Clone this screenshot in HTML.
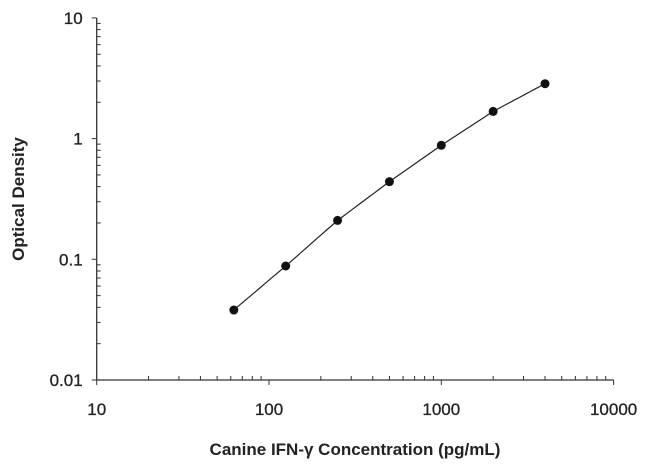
<!DOCTYPE html>
<html><head><meta charset="utf-8"><style>
body{margin:0;background:#fff;}
svg{display:block;font-family:"Liberation Sans",sans-serif;}
</style></head><body>
<svg id="chart" width="650" height="470" viewBox="0 0 650 470">
<g id="axes"></g><g id="marks"></g>
<text x="355" y="455" text-anchor="middle" font-size="17" font-weight="bold" fill="#222">Canine IFN-γ Concentration (pg/mL)</text>
<text transform="translate(24,199) rotate(-90)" text-anchor="middle" font-size="17" font-weight="bold" fill="#222">Optical Density</text>
</svg>
<script>
const xValues=[62.5,125,250,500,1000,2000,4000];
const yValues=[0.038,0.088,0.21,0.44,0.88,1.68,2.85];
const xTicks=[10,100,1000,10000];
const xTickLabels=["10","100","1000","10000"];
const yTicks=[0.01,0.1,1,10];
const yTickLabels=["0.01","0.1","1","10"];
const X0=96.7,XD=172.3,Y0=380,YD=120.7;
const sx=v=>X0+(Math.log10(v)-1)*XD;
const sy=v=>Y0-(Math.log10(v)+2)*YD;
const NS="http://www.w3.org/2000/svg";
function mk(t,a,p){const e=document.createElementNS(NS,t);for(const k in a)e.setAttribute(k,a[k]);p.appendChild(e);return e;}
const ax=document.getElementById('axes'),mg=document.getElementById('marks');
const xl=mk('line',{x1:X0,y1:Y0,x2:sx(10000),y2:Y0,stroke:'#333','stroke-width':1.3},ax);


const yl=mk('line',{x1:X0,y1:Y0,x2:X0,y2:sy(10),stroke:'#333','stroke-width':1.3},ax);


xTicks.forEach((t,i)=>{
 mk('line',{x1:sx(t),y1:Y0,x2:sx(t),y2:Y0+5,stroke:'#333'},ax);
 const tx=mk('text',{x:sx(t),y:Y0+35,'text-anchor':'middle','font-size':17,fill:'#222',stroke:'#222','stroke-width':0.3},ax);
 tx.textContent=xTickLabels[i];
 
 
 if(i<xTicks.length-1)for(let m=2;m<10;m++)mk('line',{x1:sx(t*m),y1:Y0,x2:sx(t*m),y2:Y0-4,stroke:'#333'},ax);
});
yTicks.forEach((t,i)=>{
 mk('line',{x1:X0-5,y1:sy(t),x2:X0,y2:sy(t),stroke:'#333'},ax);
 const tx=mk('text',{x:X0-14,y:sy(t)+6,'text-anchor':'end','font-size':17,fill:'#222',stroke:'#222','stroke-width':0.3},ax);
 tx.textContent=yTickLabels[i];
 
 
 if(i<yTicks.length-1)for(let m=2;m<10;m++)mk('line',{x1:X0,y1:sy(t*m),x2:X0+4,y2:sy(t*m),stroke:'#333'},ax);
});
let d='';
for(let i=0;i<xValues.length-1;i++){
 const a=Math.log10(xValues[i]),b=Math.log10(xValues[i+1]);
 const ya=Math.log10(yValues[i]),yb=Math.log10(yValues[i+1]);
 for(let k=0;k<=10;k++){const f=k/10;const lx=a+(b-a)*f,ly=ya+(yb-ya)*f;
  d+=(d?'L':'M')+sx(Math.pow(10,lx)).toFixed(1)+' '+sy(Math.pow(10,ly)).toFixed(1);}
}
const c=mk('path',{d:d,fill:'none',stroke:'#222','stroke-width':1.2},mg);


xValues.forEach((v,i)=>{
 const p=mk('circle',{cx:sx(v),cy:sy(yValues[i]),r:4.5,fill:'#111'},mg);
 
 
});
</script>
</body></html>
